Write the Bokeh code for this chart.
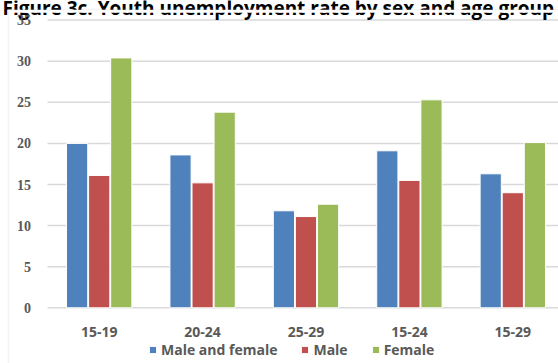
from bokeh.plotting import figure
from bokeh.models import (ColumnDataSource, Range1d, Label, LabelSet,
                          BoxAnnotation, Legend, LegendItem)
from bokeh.transform import dodge
from bokeh.core.properties import value
from bokeh.embed import file_html
from bokeh.resources import INLINE

# Youth unemployment rate (%) by sex and age group
age_groups = ["15-19", "20-24", "25-29", "15-24", "15-29"]
male_and_female = [20.0, 18.6, 11.8, 19.1, 16.3]
male = [16.1, 15.2, 11.1, 15.5, 14.0]
female = [30.4, 23.8, 12.6, 25.3, 20.1]

series_names = ["Male and female", "Male", "Female"]
series_colors = ["#4F81BD", "#C0504D", "#9BBB59"]
y_ticks = [0, 5, 10, 15, 20, 25, 30, 35]

TITLE = "Figure 3c. Youth unemployment rate by sex and age group"
FONT = "Open Sans"
GREY = "#595959"
GRID = "#D9D9D9"

W, H = 558, 363
# page layout in pixels: plot area starts at x=47, value 0 sits at y=307.3
X0_PX, CAT_PX = 47.0, 103.4
Y0_PX, UNIT_PX = 307.3, 8.22


def cx(px):
    """horizontal page pixel -> data x"""
    return (px - X0_PX) / CAT_PX


def cy(py):
    """vertical page pixel (from top) -> data y"""
    return (Y0_PX - py) / UNIT_PX


centers = [i + 0.5 for i in range(len(age_groups))]
src = ColumnDataSource(dict(x=centers, mf=male_and_female, m=male, f=female,
                            label=age_groups))
ticks_src = ColumnDataSource(dict(y=y_ticks, x=[cx(30.5)] * len(y_ticks),
                                  label=[str(t) for t in y_ticks]))

p = figure(width=W, height=H, output_backend="svg", toolbar_location=None,
           x_range=Range1d(cx(0), cx(W)), y_range=Range1d(cy(H), cy(0)),
           x_axis_type=None, y_axis_type=None,
           min_border=0, min_border_left=0, min_border_right=0,
           min_border_top=0, min_border_bottom=0,
           background_fill_color="white", border_fill_color="white",
           outline_line_color=None)
p.xgrid.visible = False
p.ygrid.visible = False

# horizontal gridlines
p.segment(x0=cx(X0_PX), x1=cx(W + 2), y0="y", y1="y", source=ticks_src,
          line_color=GRID, line_width=1.5)

# clustered bars
bar_w = 0.205
step = 0.2135
renderers = []
for k, (col, color) in enumerate(zip(["mf", "m", "f"], series_colors)):
    r = p.vbar(x=dodge("x", (k - 1) * step), top=col, width=bar_w, bottom=0,
               source=src, fill_color=color, line_color="white", line_width=1)
    renderers.append(r)

# category axis labels
p.text(x="x", y=cy(331), text="label", source=src,
       text_font=value(FONT), text_font_style="bold", text_font_size="14px",
       text_color=GREY, text_align="center", text_baseline="middle")

# chart title, its lower part hidden behind the chart box
p.add_layout(Label(x=cx(2), y=cy(7), text=TITLE,
                   text_font=FONT, text_font_style="bold",
                   text_font_size="19px", text_color="#000000",
                   text_baseline="alphabetic"))
p.add_layout(BoxAnnotation(left=cx(8.5), right=cx(W + 5), top=cy(9.5),
                           bottom=cy(12.2), fill_color="white",
                           fill_alpha=1.0, line_color=None))
# light grey border of the chart box
p.add_layout(BoxAnnotation(left=cx(8), right=cx(W + 50), top=cy(9),
                           bottom=cy(H + 50), fill_alpha=0,
                           line_color=GRID, line_width=1.5))

# value axis labels, drawn above the chart box
p.add_layout(LabelSet(x="x", y="y", text="label", source=ticks_src,
                      text_font=FONT, text_font_style="bold",
                      text_font_size="14px", text_color=GREY,
                      text_align="right", text_baseline="middle"))

legend = Legend(items=[LegendItem(label=n, renderers=[r])
                       for n, r in zip(series_names, renderers)],
                location=(148, 4), orientation="horizontal",
                glyph_width=9, glyph_height=9, label_height=9,
                label_standoff=4, spacing=23, padding=0, margin=0,
                border_line_color=None, background_fill_alpha=0,
                label_text_font=FONT, label_text_font_style="bold",
                label_text_font_size="14px", label_text_color=GREY)
p.add_layout(legend)

open("out.html", "w").write(file_html(p, INLINE))
